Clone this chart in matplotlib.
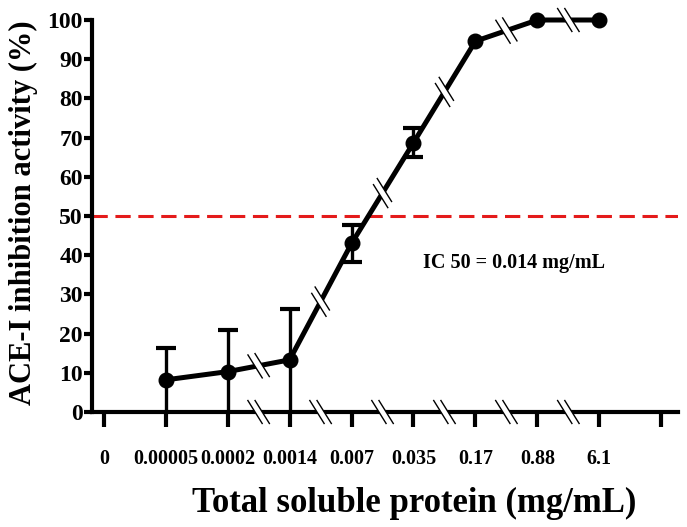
import matplotlib
matplotlib.use('Agg')
import matplotlib.pyplot as plt
import numpy as np

categories = ['0', '0.00005', '0.0002', '0.0014', '0.007', '0.035', '0.17', '0.88', '6.1', '']
inhibition = [8.2, 10.3, 13.3, 43.0, 68.7, 94.6, 100.0, 100.0]
error = [8.0, 10.5, 13.0, 4.8, 3.7, 0.0, 0.0, 0.0]
yticks = [0, 10, 20, 30, 40, 50, 60, 70, 80, 90, 100]
ic50_level = 50
ic50_text = 'IC 50 = 0.014 mg/mL'
xlabel = 'Total soluble protein (mg/mL)'
ylabel = 'ACE-I inhibition activity (%)'

plt.rcParams['font.family'] = ['Liberation Serif', 'DejaVu Serif']
plt.rcParams['font.weight'] = 'bold'

W, H = 687, 527
fig = plt.figure(figsize=(W / 100, H / 100), dpi=100)
ax = fig.add_axes([92 / W, 1 - 412 / H, (678 - 92) / W, (412 - 20) / H])

pos = np.arange(len(categories))
xdata = pos[1:len(inhibition) + 1]
ax.set_xlim(-0.19, 9.27)
ax.set_ylim(0, 100)

for s in ['top', 'right']:
    ax.spines[s].set_visible(False)
for s in ['left', 'bottom']:
    ax.spines[s].set_linewidth(3)
    ax.spines[s].set_zorder(2.5)

ax.axhline(ic50_level, color='#e41b1b', lw=2.2, ls=(0, (5, 2.5)), zorder=1.5)

err = np.array(error)
vals = np.array(inhibition)
mask = err > 0
# lower bars that reach the axis run on below it (clipped there), as in the original
lower = np.where(vals - err < 1.5, vals + 5, err)[mask]
upper = err[mask]
ax.errorbar(xdata[mask], vals[mask], yerr=[lower, upper], fmt='none',
            ecolor='black', elinewidth=2.4, capsize=7, capthick=3, zorder=2.2)
ax.plot(xdata, inhibition, '-o', color='black', lw=3.6, ms=10.5, zorder=3,
        clip_on=False, solid_capstyle='butt')

ax.set_xticks(pos)
ax.set_xticklabels(categories, fontsize=14.5, fontweight='bold')
ax.set_yticks(yticks)
ax.set_yticklabels([str(v) for v in yticks], fontsize=17, fontweight='bold')
ax.tick_params(axis='x', length=11, width=3, pad=16, direction='out')
ax.tick_params(axis='y', length=5.5, width=3, pad=1, direction='out')

fig.text(23 / W, 1 - 213 / H, ylabel, fontsize=22, fontweight='bold', rotation=90,
         ha='center', va='center')
fig.text(414 / W, 1 - 503 / H, xlabel, fontsize=25, fontweight='bold', ha='center', va='center')

ax.text(6.62, 38.0, ic50_text, fontsize=14.5, fontweight='bold', ha='center', va='center')

# break marks
fig.canvas.draw()
T = ax.transData
inv = T.inverted()


def break_mark(xd, yd, ux, uy):
    cx, cy = T.transform((xd, yd))
    gap = 3.6
    sx, sy = 0.53, -0.85
    L = 13.5
    c1 = np.array([cx - ux * gap, cy - uy * gap])
    c2 = np.array([cx + ux * gap, cy + uy * gap])
    s = np.array([sx, sy]) * L
    w = np.array([sx, sy]) * 6.5
    cover = np.array([c1 - w, c1 + w, c2 + w, c2 - w])
    cov = inv.transform(cover)
    ax.fill(cov[:, 0], cov[:, 1], color='white', zorder=4, clip_on=False, lw=0)
    for c in (c1, c2):
        seg = inv.transform(np.array([c - s, c + s]))
        ax.plot(seg[:, 0], seg[:, 1], color='black', lw=1.0, zorder=5, clip_on=False)


for i in range(2, 8):
    break_mark(i + 0.5, 0, 1.0, 0.0)
for i in range(1, 7):
    x0, x1 = xdata[i], xdata[i + 1]
    y0, y1 = inhibition[i], inhibition[i + 1]
    p0 = T.transform((x0, y0))
    p1 = T.transform((x1, y1))
    d = p1 - p0
    d = d / np.hypot(*d)
    break_mark((x0 + x1) / 2, (y0 + y1) / 2, d[0], d[1])

fig.savefig('out.png', dpi=100)
